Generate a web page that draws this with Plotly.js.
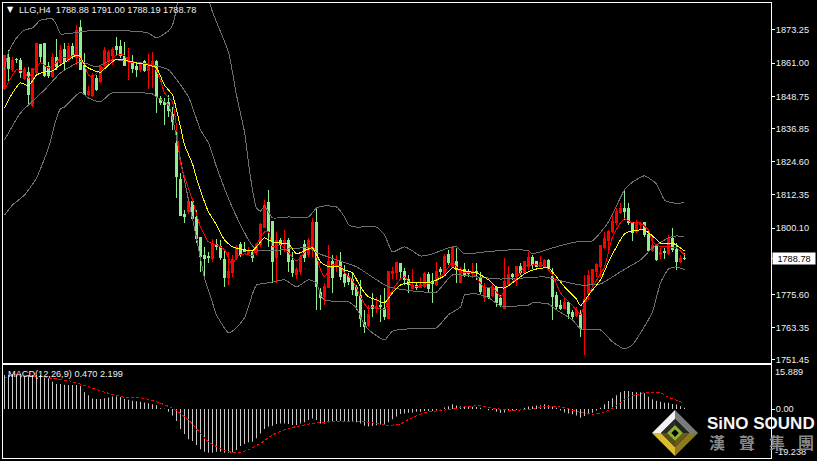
<!DOCTYPE html>
<html><head><meta charset="utf-8">
<script src="https://cdn.plot.ly/plotly-3.0.1.min.js"></script>
<style>html,body{margin:0;padding:0;background:#000}#c{width:817px;height:461px}
.js-line,.boxlayer path{shape-rendering:crispEdges}</style>
</head><body><div id="c"></div>
<script>
const opens=[1851.8,1862.9,1858.5,1862.5,1861.8,1855.2,1857.4,1845.2,1857.7,1867.7,
1868.4,1859.6,1855.9,1862.9,1861.1,1865.9,1862.2,1867.0,1862.9,1874.0,
1860.3,1849.6,1848.9,1855.5,1854.1,1860.3,1861.5,1864.0,1867.3,1867.0,
1863.3,1861.5,1861.1,1859.6,1858.5,1861.5,1858.1,1859.6,1861.5,1848.1,
1846.6,1846.3,1841.9,1831.5,1817.9,1805.0,1806.1,1809.8,1803.9,1796.8,
1789.9,1789.5,1788.7,1793.9,1793.2,1788.4,1781.7,1783.6,1789.1,1793.9,
1792.1,1790.6,1791.0,1791.0,1793.9,1800.5,1809.4,1802.4,1789.1,1795.7,
1793.9,1795.7,1788.0,1782.8,1784.0,1793.9,1790.2,1792.1,1802.0,1776.2,
1774.7,1778.0,1787.6,1785.8,1787.6,1782.8,1782.1,1781.0,1778.0,1775.4,
1765.1,1764.0,1771.7,1770.3,1771.7,1770.6,1766.9,1783.2,1783.6,1786.9,
1784.0,1781.0,1777.7,1778.8,1778.0,1778.4,1782.8,1780.3,1779.1,1784.7,
1783.6,1790.2,1785.8,1787.6,1779.9,1785.0,1783.9,1783.2,1783.9,1781.7,
1774.4,1778.0,1775.4,1778.0,1774.0,1770.6,1779.1,1782.8,1782.1,1785.8,
1783.6,1785.8,1789.1,1787.6,1786.1,1785.8,1788.0,1782.1,1775.4,1771.4,
1770.6,1772.5,1768.8,1767.7,1768.1,1763.2,1775.8,1779.5,1784.0,1785.8,
1792.8,1795.7,1798.7,1802.0,1805.7,1807.5,1807.2,1802.0,1798.7,1801.3,
1802.0,1797.6,1791.7,1793.5,1790.2,1791.3,1790.6,1796.1,1792.1,1787.9,1788.88];
const highs=[1864.0,1865.9,1863.3,1862.9,1862.9,1859.6,1859.6,1859.2,1868.4,1867.7,
1868.4,1861.5,1864.7,1869.9,1867.7,1868.4,1868.4,1868.4,1875.1,1876.9,
1864.7,1852.6,1857.4,1856.6,1860.3,1867.0,1865.9,1867.0,1870.6,1869.5,
1868.8,1866.6,1864.0,1861.5,1861.5,1862.2,1864.4,1865.1,1862.2,1848.9,
1848.1,1849.2,1844.8,1837.4,1820.5,1806.8,1809.8,1809.8,1806.8,1796.8,
1793.2,1791.3,1796.1,1796.1,1795.7,1792.1,1791.3,1790.2,1793.9,1795.0,
1795.0,1793.2,1792.1,1794.6,1802.0,1810.5,1814.2,1802.4,1798.7,1796.4,
1799.4,1796.4,1791.3,1785.8,1790.2,1795.7,1796.4,1803.9,1807.9,1778.0,
1779.9,1793.9,1790.2,1790.2,1791.3,1786.5,1783.6,1784.0,1779.1,1781.0,
1769.9,1771.7,1776.2,1774.7,1775.4,1778.0,1784.0,1785.8,1787.6,1787.3,
1785.4,1782.8,1785.0,1780.3,1782.1,1784.0,1784.0,1783.6,1787.6,1785.8,
1790.6,1792.1,1793.2,1792.8,1785.8,1787.3,1785.0,1787.3,1787.3,1783.9,
1779.9,1778.4,1779.9,1778.4,1775.4,1789.1,1786.1,1783.6,1786.1,1787.3,
1788.0,1791.3,1790.2,1788.0,1789.8,1788.7,1788.7,1785.4,1776.6,1773.6,
1774.3,1772.9,1769.9,1771.0,1769.9,1782.8,1784.7,1785.0,1787.3,1793.9,
1798.7,1799.4,1805.0,1807.5,1809.4,1813.8,1809.4,1802.4,1803.1,1802.4,
1802.4,1799.4,1796.8,1793.9,1792.8,1792.8,1797.6,1800.1,1794.6,1790.2,1791.00];
const lows=[1851.1,1854.1,1857.7,1861.1,1855.5,1854.8,1845.6,1844.8,1856.6,1861.5,
1855.9,1855.5,1855.5,1858.5,1860.3,1858.5,1861.5,1862.5,1860.3,1858.5,
1849.3,1848.9,1848.5,1850.7,1853.7,1859.6,1860.3,1860.3,1864.0,1862.9,
1860.3,1854.8,1857.4,1855.9,1857.7,1857.7,1851.5,1851.8,1842.6,1845.6,
1838.2,1841.1,1836.3,1811.2,1804.6,1802.0,1805.3,1803.1,1794.6,1784.0,
1781.7,1787.3,1787.6,1792.1,1788.4,1778.4,1779.1,1782.1,1788.4,1789.5,
1791.3,1790.2,1787.6,1790.2,1793.2,1800.2,1793.2,1779.9,1779.9,1790.2,
1791.3,1784.0,1782.1,1781.3,1782.8,1787.6,1789.5,1789.5,1769.9,1769.9,
1771.7,1778.0,1776.2,1784.0,1781.0,1778.4,1779.1,1775.4,1769.9,1763.6,
1761.4,1763.6,1767.3,1768.8,1765.5,1766.2,1766.6,1781.3,1781.0,1781.7,
1779.1,1776.2,1777.7,1777.3,1778.0,1778.0,1776.2,1772.5,1778.8,1782.1,
1782.8,1786.5,1785.4,1779.9,1779.9,1782.1,1782.1,1781.7,1781.0,1775.8,
1772.9,1774.0,1774.7,1771.0,1771.0,1770.3,1778.8,1781.0,1778.8,1782.8,
1783.2,1784.7,1785.0,1785.8,1785.8,1785.4,1785.0,1766.2,1770.3,1769.9,
1770.6,1766.6,1766.2,1767.3,1759.9,1753.3,1773.6,1778.8,1782.1,1782.1,
1792.4,1792.1,1798.3,1801.3,1805.3,1803.1,1801.3,1795.4,1798.3,1799.4,
1796.8,1791.3,1791.3,1788.0,1788.7,1788.7,1790.2,1791.3,1784.7,1787.3,1788.19];
const closes=[1864.0,1859.2,1861.8,1862.2,1857.4,1858.5,1849.3,1859.2,1868.4,1863.3,
1856.6,1856.6,1862.9,1859.6,1865.5,1861.5,1867.0,1863.3,1873.2,1858.5,
1849.6,1850.4,1856.6,1851.1,1859.6,1865.5,1865.1,1865.9,1865.9,1864.0,
1860.3,1862.9,1859.2,1858.5,1861.1,1858.1,1859.6,1861.5,1848.5,1846.3,
1845.6,1843.7,1839.3,1819.0,1804.6,1804.2,1809.8,1803.5,1796.1,1789.5,
1788.7,1789.1,1794.3,1793.2,1789.1,1781.7,1784.0,1788.4,1792.8,1790.2,
1791.3,1791.3,1789.1,1793.9,1801.3,1808.6,1798.7,1787.6,1795.7,1793.9,
1795.4,1787.6,1783.6,1784.7,1789.1,1789.1,1795.7,1802.0,1778.4,1774.4,
1778.4,1787.6,1781.7,1787.6,1782.4,1779.9,1780.3,1777.3,1775.4,1766.9,
1763.6,1768.1,1770.6,1771.0,1771.0,1767.3,1784.0,1784.0,1787.3,1784.0,
1781.0,1779.1,1778.8,1778.0,1779.1,1783.2,1777.7,1779.5,1784.0,1784.0,
1789.8,1787.3,1792.8,1784.7,1784.7,1782.8,1783.2,1783.9,1783.6,1776.6,
1777.7,1774.4,1778.0,1772.5,1771.4,1780.3,1782.8,1782.1,1785.8,1783.6,
1787.6,1789.1,1786.5,1786.1,1787.3,1788.0,1785.4,1774.7,1771.0,1770.3,
1772.5,1768.4,1767.3,1769.5,1763.2,1773.6,1782.5,1784.7,1786.5,1793.5,
1796.1,1799.0,1802.4,1806.1,1807.5,1806.4,1802.0,1798.3,1802.0,1801.7,
1797.6,1791.7,1793.5,1788.4,1791.0,1791.0,1796.1,1792.1,1787.6,1788.7,1788.78];

const yellowIdx=[0,2,4,6,8,10,12,14,16,18,19,20,22,24,26,28,33,36,38,40,42,44,45,47,48,51,53,55,57,59,62,63,65,67,69,71,73,75,77,79,81,83,85,87,89,91,93,95,97,99,101,104,107,110,112,114,116,118,121,123,125,127,130,133,136,138,140,143,144,146,149,151,153,155,157,160,162,164,166,167,170];
const yellowMA=[1844.4,1850.0,1853.7,1852.6,1856.6,1857.7,1858.1,1860.3,1862.2,1864.0,1863.3,1860.3,1858.5,1857.7,1860.3,1862.5,1861.1,1860.3,1859.2,1852.9,1849.2,1837.4,1830.8,1823.8,1818.6,1806.1,1801.3,1795.7,1793.2,1792.4,1791.7,1793.2,1796.5,1795.0,1794.6,1794.3,1790.6,1791.7,1792.8,1787.6,1785.8,1786.1,1784.7,1783.6,1778.4,1774.7,1773.6,1772.5,1776.2,1779.1,1779.9,1779.9,1780.3,1782.5,1785.4,1784.7,1784.0,1783.6,1781.0,1778.4,1778.0,1779.9,1783.2,1785.0,1785.4,1782.1,1778.4,1773.9,1771.4,1775.4,1781.0,1787.6,1793.2,1798.0,1799.1,1799.4,1797.2,1794.6,1794.3,1794.6,1791.7];

const redIdx=[0,2,3,5,6,7,9,11,12,14,16,18,20,21,22,24,26,28,30,31,33,37,39,40,42,43,44,45,47,49,51,53,55,57,58,60,62,63,65,66,67,69,71,73,75,77,79,80,82,84,85,87,89,91,92,95,96,97,99,100,102,105,107,110,112,114,117,120,122,124,125,128,130,132,135,137,139,143,144,145,147,150,152,154,155,157,159,161,162,164,166,168,170];
const redMA=[1851.1,1856.6,1858.5,1857.7,1855.5,1857.7,1861.1,1859.2,1859.6,1862.9,1862.9,1864.4,1860.3,1856.6,1855.9,1858.5,1861.1,1864.0,1864.0,1861.5,1861.1,1860.3,1854.8,1850.0,1846.7,1837.4,1824.2,1819.0,1810.5,1800.5,1795.0,1793.9,1792.1,1786.5,1789.5,1790.6,1789.9,1793.9,1798.7,1798.7,1793.2,1793.9,1791.0,1788.0,1791.0,1793.9,1784.7,1782.1,1786.5,1785.8,1783.6,1781.0,1774.7,1770.3,1771.0,1769.9,1774.3,1777.3,1781.3,1782.1,1778.4,1779.1,1780.3,1783.6,1787.6,1783.9,1783.6,1778.0,1778.4,1774.7,1777.3,1781.7,1785.8,1786.5,1786.1,1782.8,1776.2,1769.9,1768.1,1771.7,1778.4,1785.8,1796.8,1802.0,1803.5,1802.0,1802.0,1799.4,1795.0,1793.2,1793.2,1792.8,1790.2];

const bbUpperIdx=[0,1,3,5,7,9,12,13,14,17,21,31,36,38,41,42,43,44,45,48,50,52,56,58,60,61,62,63,64,65,67,71,76,78,80,83,85,86,88,93,95,97,100,102,104,107,111,113,115,120,127,131,132,137,143,147,151,155,157,160,163,165,167,170];
const bbUpper=[1858.5,1865.1,1870.3,1873.2,1874.0,1876.9,1877.3,1875.1,1871.8,1872.1,1872.9,1872.9,1872.1,1870.3,1872.9,1875.1,1881.3,1891.7,1895.0,1897.0,1890.0,1879.9,1865.1,1849.2,1835.6,1824.2,1814.2,1807.5,1806.4,1808.3,1803.9,1804.2,1804.2,1807.5,1808.3,1807.9,1804.2,1801.3,1800.5,1800.5,1797.6,1791.3,1793.2,1791.7,1789.8,1790.6,1792.8,1793.2,1790.6,1791.3,1792.1,1791.7,1790.6,1792.8,1795.0,1795.4,1802.4,1814.2,1817.1,1819.4,1816.4,1810.5,1809.4,1809.4];

const bbMidIdx=[0,4,10,14,19,23,27,37,41,46,49,51,53,57,61,63,67,71,76,78,83,88,93,96,100,105,108,112,118,124,130,135,138,144,149,154,159,162,166,168,170];
const bbMid=[1832.6,1842.6,1851.1,1857.4,1861.5,1859.6,1862.2,1860.3,1858.5,1848.5,1836.3,1831.5,1822.7,1807.5,1795.7,1792.1,1791.7,1792.4,1792.8,1791.0,1788.4,1785.8,1781.0,1778.4,1777.3,1776.5,1776.5,1782.8,1782.1,1781.3,1781.7,1782.1,1781.0,1779.1,1779.5,1784.0,1788.4,1792.8,1796.5,1797.2,1796.8];

const bbLowerIdx=[0,2,5,8,11,13,14,15,19,21,24,26,27,32,37,38,41,42,43,44,46,48,50,52,53,56,58,60,61,62,63,66,70,73,76,78,79,80,84,86,88,90,92,95,97,101,104,108,111,114,115,118,121,124,131,132,136,138,142,144,149,152,155,157,159,162,164,166,168,170];
const bbLower=[1804.9,1808.6,1812.3,1818.6,1829.7,1840.7,1844.1,1844.8,1850.3,1848.1,1846.7,1849.2,1850.0,1850.3,1849.6,1848.5,1845.6,1840.7,1833.4,1825.3,1810.5,1796.5,1781.7,1772.5,1768.1,1761.4,1763.3,1767.0,1771.0,1775.8,1779.1,1779.9,1781.0,1778.4,1781.0,1779.9,1775.4,1773.6,1772.9,1772.9,1770.6,1764.4,1761.4,1758.8,1762.1,1762.9,1762.9,1763.3,1768.1,1771.0,1775.4,1775.8,1774.4,1771.4,1771.7,1772.5,1772.1,1769.9,1766.2,1762.9,1762.5,1758.1,1755.5,1757.0,1761.4,1769.2,1779.9,1785.0,1785.8,1784.7];

const macdHist=[13.0,13.0,13.4,13.4,13.4,13.0,13.0,13.0,13.0,13.0,
12.4,11.7,10.4,9.5,9.5,9.3,9.2,9.2,9.2,8.8,
6.4,5.3,4.0,3.8,3.8,4.1,4.4,4.8,4.8,4.6,
3.9,3.5,3.2,3.0,2.8,2.5,2.2,1.8,1.4,0.3,
0.1,-1.0,-2.5,-4.6,-7.6,-9.5,-11.5,-12.2,-13.7,-15.4,
-16.3,-16.7,-16.7,-16.3,-16.3,-16.7,-16.7,-16.5,-15.6,-14.1,
-13.4,-12.7,-12.5,-11.2,-9.3,-7.6,-6.7,-6.4,-5.7,-5.5,
-5.5,-5.7,-6.1,-6.1,-5.5,-5.1,-4.2,-3.6,-4.2,-5.5,
-5.5,-5.1,-4.8,-4.6,-4.6,-4.6,-4.8,-4.8,-5.1,-5.5,
-6.4,-6.7,-6.5,-6.2,-5.9,-5.9,-5.1,-3.9,-2.9,-1.9,
-1.7,-1.4,-1.3,-1.0,-1.0,-0.8,-0.8,-0.8,-0.4,-0.1,
0.6,1.1,1.8,1.3,1.1,1.1,1.0,0.9,0.8,0.5,
0.0,-0.5,-0.4,-1.0,-1.4,-1.3,-0.8,-0.6,-0.4,-0.1,
0.5,1.0,1.1,1.3,1.4,1.8,1.4,0.9,0.5,-0.6,
-1.3,-1.7,-2.0,-2.5,-3.3,-2.7,-2.0,-1.4,-0.6,0.5,
1.8,3.1,4.1,5.3,6.4,6.9,6.9,6.5,6.4,6.4,
6.0,4.7,3.7,3.2,2.8,2.4,2.4,1.9,1.7,1.1,0.47];

const signalIdx=[0,2,7,12,16,19,22,26,30,35,39,42,46,48,51,55,58,61,64,67,71,74,77,82,87,91,96,99,101,105,110,114,119,122,127,132,135,139,144,147,150,153,156,160,164,166,170];
const macdSignal=[11.7,13.0,12.6,11.7,10.8,9.5,7.9,6.0,4.5,4.1,2.2,0.3,-4.2,-7.6,-12.5,-15.9,-16.7,-15.6,-13.1,-9.9,-7.4,-6.4,-5.5,-4.8,-4.6,-5.1,-6.2,-5.7,-4.0,-1.4,-0.4,0.6,1.3,0.3,-0.5,0.0,1.1,0.9,-1.3,-2.0,-1.3,1.3,4.5,6.2,6.1,4.5,2.199];

const priceTickVals=[1873.25,1861.00,1848.75,1836.85,1824.60,1812.35,1800.10,1788.78,1775.60,1763.35,1751.45];
const priceTickText=["1873.25","1861.00","1848.75","1836.85","1824.60","1812.35","1800.10","","1775.60","1763.35","1751.45"];

const barIdx=opens.map((_,i)=>i);
const FONT="'Liberation Sans', Arial, sans-serif";
const FS=9.2;
const WHITE="#FFFFFF", TXT="#F0F0F0";
const bandLine=(idx,v)=>({type:'scatter',mode:'lines',x:idx,y:v,xaxis:'x',yaxis:'y',
  line:{color:'#707070',width:1,shape:'spline',smoothing:0.5},hoverinfo:'skip'});
const maLine=(idx,v,c)=>({type:'scatter',mode:'lines',x:idx,y:v,xaxis:'x',yaxis:'y',
  line:{color:c,width:1,shape:'spline',smoothing:0.5},hoverinfo:'skip'});

const data=[
 {type:'candlestick',x:barIdx,open:opens,high:highs,low:lows,close:closes,xaxis:'x',yaxis:'y',
  increasing:{line:{color:'#FF0000',width:1},fillcolor:'#FF0000'},
  decreasing:{line:{color:'#90EE90',width:1},fillcolor:'#90EE90'},whiskerwidth:0,hoverinfo:'skip'},
 bandLine(bbUpperIdx,bbUpper),bandLine(bbMidIdx,bbMid),bandLine(bbLowerIdx,bbLower),
 maLine(redIdx,redMA,'#FF0000'),maLine(yellowIdx,yellowMA,'#FFFF00'),
 {type:'bar',x:barIdx,y:macdHist,xaxis:'x2',yaxis:'y2',width:0.25,
  marker:{color:'#C8C8C8',line:{width:0}},hoverinfo:'skip'},
 {type:'scatter',mode:'lines',x:signalIdx,y:macdSignal,xaxis:'x2',yaxis:'y2',
  line:{color:'#FF0000',width:1,dash:'3px,2px',shape:'spline',smoothing:0.5},hoverinfo:'skip'}
];

// page-pixel helpers for the decorative logo
const W=817,H=461,L=3,R=46,T=3,B=3;
const px=x=>(x-L)/(W-L-R), py=y=>(H-B-y)/(H-T-B);
function poly(pts,fill){return {type:'path',xref:'paper',yref:'paper',layer:'above',
  path:'M'+pts.map(p=>px(p[0]).toFixed(5)+','+py(p[1]).toFixed(5)).join('L')+'Z',
  fillcolor:fill,line:{width:0}};}
function ring(cx,cy,a,b,c1,c2,c3,c4){
  const o=(k)=>[[cx,cy-k],[cx+k,cy],[cx,cy+k],[cx-k,cy]];
  const A=o(a),N=o(b);
  return [poly([A[3],A[0],N[0],N[3]],c1),poly([A[0],A[1],N[1],N[0]],c2),
          poly([A[1],A[2],N[2],N[1]],c3),poly([A[2],A[3],N[3],N[2]],c4)];
}
const CX=675,CY=433;
const logo=[
  ...ring(CX,CY,23,14,'#F2F2F2','#7A7A7A','#8C7A20','#D9BC2C'),
  ...ring(CX,CY,14,8,'#2A2A2A','#222222','#6A5A1E','#5A4C18'),
  ...ring(CX,CY,8,3.5,'#8FAF2E','#8FAF2E','#8FAF2E','#8FAF2E'),
  poly([[CX,CY-3.5],[CX+3.5,CY],[CX,CY+3.5],[CX-3.5,CY]],'#000000')
];

const ann=(o)=>Object.assign({showarrow:false,xref:'paper',yref:'paper',xanchor:'left',yanchor:'middle',
  font:{family:FONT,size:FS,color:TXT}},o);
const annotations=[
  ann({x:px(5),y:py(10),text:'▼',font:{family:"'DejaVu Sans'",size:8,color:WHITE}}),
  ann({x:px(17),y:py(10),text:'LLG,H4  1788.88 1791.00 1788.19 1788.78'}),
  ann({x:px(6),y:py(374),text:'MACD(12,26,9) 0.470 2.199'}),
  ann({x:1.001,xref:'paper',y:1788.78,yref:'y',text:'1788.78',bgcolor:'#FFFFFF',width:42,height:11,align:'center',
       borderpad:0,font:{family:FONT,size:FS,color:'#000000'}}),
  ann({x:1.006,xshift:-3,y:py(372),text:'15.889'}),
  ann({x:1.006,xshift:-3,y:py(452),text:'-19.238'}),
  ann({x:px(705),y:py(423),text:'<b>SiNO SOUND</b>',font:{family:FONT,size:17,color:'#F5F5F5'}}),
  ann({x:px(707),y:py(442),text:'<b>漢</b>',font:{family:"'Noto Sans CJK TC'",size:16,color:'#8A8A8A'}}),
  ann({x:px(737),y:py(442),text:'<b>聲</b>',font:{family:"'Noto Sans CJK TC'",size:16,color:'#8A8A8A'}}),
  ann({x:px(767),y:py(442),text:'<b>集</b>',font:{family:"'Noto Sans CJK TC'",size:16,color:'#8A8A8A'}}),
  ann({x:px(796),y:py(442),text:'<b>團</b>',font:{family:"'Noto Sans CJK TC'",size:16,color:'#8A8A8A'}})
];

const xBase={range:[-0.375,191.625],showticklabels:false,ticks:'',showgrid:false,zeroline:false,
  showline:true,mirror:true,linecolor:WHITE,linewidth:1,rangeslider:{visible:false},fixedrange:true};
const layout={
  width:W,height:H,margin:{l:L,r:R,t:T,b:B,pad:0},
  paper_bgcolor:'#000000',plot_bgcolor:'#000000',showlegend:false,hovermode:false,
  boxgap:0.286,
  font:{family:FONT,size:FS,color:TXT},
  xaxis:Object.assign({anchor:'y'},xBase),
  xaxis2:Object.assign({anchor:'y2'},xBase),
  yaxis:{domain:[0.2088,1],range:[1750.3,1883.2],side:'right',anchor:'x',
    tickmode:'array',tickvals:priceTickVals,ticktext:priceTickText,ticks:'outside',ticklen:3,tickcolor:WHITE,tickwidth:1,
    showgrid:false,zeroline:false,showline:true,mirror:true,linecolor:WHITE,linewidth:1,ticklabelstandoff:-1,
    tickfont:{family:FONT,size:FS,color:TXT},fixedrange:true},
  yaxis2:{domain:[0,0.2044],range:[-18.7,16.8],side:'right',anchor:'x2',
    tickmode:'array',tickvals:[0],ticktext:['0.00'],ticks:'outside',ticklen:3,tickcolor:WHITE,tickwidth:1,
    showgrid:false,zeroline:false,showline:true,mirror:true,linecolor:WHITE,linewidth:1,ticklabelstandoff:-1,
    tickfont:{family:FONT,size:FS,color:TXT},fixedrange:true},
  shapes:logo,annotations
};
Plotly.newPlot('c',data,layout,{displayModeBar:false,staticPlot:true});
</script></body></html>
